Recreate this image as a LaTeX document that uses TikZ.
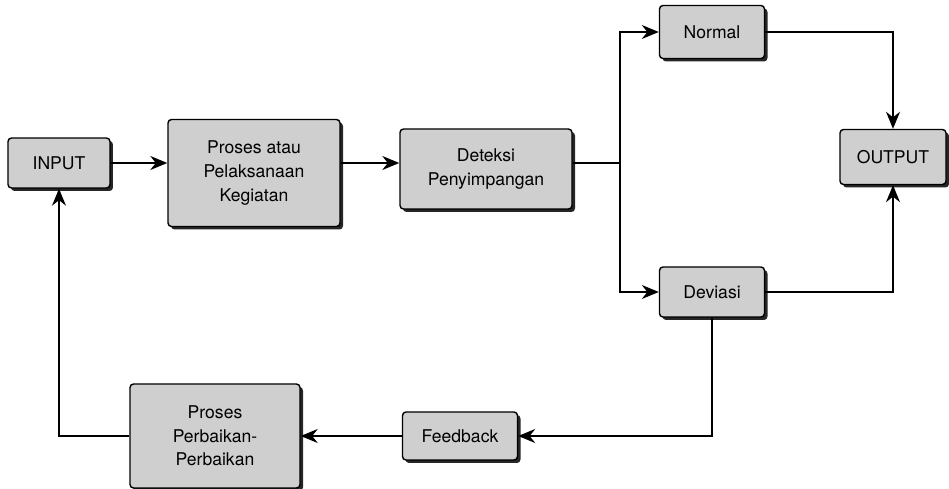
\documentclass[tikz,border=0pt]{standalone}
\usepackage{fontspec}
\setmainfont{TeX Gyre Heros}
\usetikzlibrary{arrows.meta, positioning, shadows}

\begin{document}
\begin{tikzpicture}[
          box/.style={draw, rounded corners=2pt, fill=gray!38, line width=0.8pt,
            align=center, font=\fontsize{10}{13.5}\selectfont,
            drop shadow={shadow xshift=0.6mm, shadow yshift=-0.6mm, opacity=1, fill=black!85}},
          flow/.style={->, draw, line width=0.8pt},
          >={Stealth[length=3.4mm, width=2.8mm]}
        ]
        \useasboundingbox (0,0) rectangle (18.98,9.78);
        % top row
        \node [box, minimum width=2.04cm, minimum height=1cm] (input) at (1.18,6.52) {INPUT};
        \node [box, minimum width=3.44cm, minimum height=2.14cm] (proses) at (5.08,6.32) {Proses atau\\Pelaksanaan\\Kegiatan};
        \node [box, minimum width=3.44cm, minimum height=1.6cm] (deteksi) at (9.72,6.40) {Deteksi\\Penyimpangan};
        \node [box, minimum width=2.1cm, minimum height=1.06cm] (normal) at (14.24,9.14) {Normal};
        \node [box, minimum width=2.1cm, minimum height=1cm] (deviasi) at (14.24,3.94) {Deviasi};
        \node [box, minimum width=2.12cm, minimum height=1.1cm] (output) at (17.86,6.64) {OUTPUT};
        % bottom row
        \node [box, minimum width=2.3cm, minimum height=0.96cm] (feedback) at (9.2,1.06) {Feedback};
        \node [box, minimum width=3.4cm, minimum height=2.08cm] (perbaikan) at (4.3,1.06) {Proses\\Perbaikan-\\Perbaikan};
        \coordinate (split) at (12.4,6.52);

        \draw [flow] (input.east) -- (input.east -| proses.west);
        \draw [flow] (input.east -| proses.east) -- (input.east -| deteksi.west);
        \draw [line width=0.8pt] (input.east -| deteksi.east) -- (split);
        \draw [flow] (split) |- (normal.west);
        \draw [flow] (split) |- (deviasi.west);
        \draw [flow] (normal.east) -| (output.north);
        \draw [flow] (deviasi.east) -| (output.south);
        \draw [flow] (deviasi.south) |- (feedback.east);
        \draw [flow] (feedback.west) -- (perbaikan.east);
        \draw [flow] (perbaikan.west) -| (input.south);
        \end{tikzpicture}
\end{document}
